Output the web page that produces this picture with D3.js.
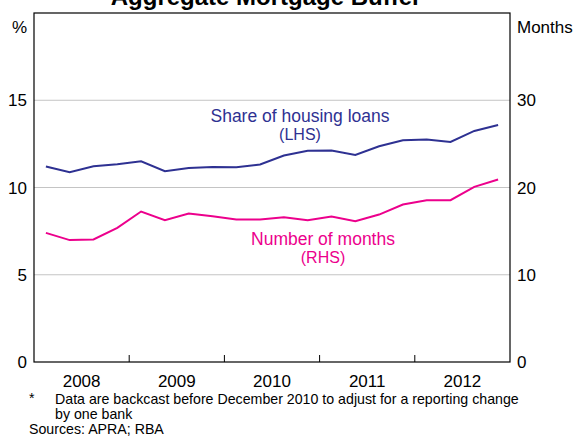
<!DOCTYPE html>
<html>
<head>
<meta charset="utf-8">
<script src="https://cdn.jsdelivr.net/npm/d3@7"></script>
<style>
  body { margin: 0; background: #fff; }
  text { font-family: Arial, "Liberation Sans", sans-serif; }
</style>
</head>
<body>
<div id="chart"></div>
<script>
let svgWidth = 574;
let svgHeight = 438;

let margin = { top: 13, right: 64, bottom: 76, left: 34 };
let width = svgWidth - margin.left - margin.right;
let height = svgHeight - margin.top - margin.bottom;

// quarterly observations, 2008 Q1 to 2012 Q4
let quarters = d3.range(20).map(i => 2008 + Math.floor(i / 4) + (i % 4) / 4 + 0.125);
let shareLoans = [11.2, 10.88, 11.22, 11.33, 11.5, 10.93, 11.12, 11.18, 11.16, 11.32,
                  11.83, 12.1, 12.12, 11.87, 12.36, 12.71, 12.75, 12.61, 13.24, 13.58];
let numMonths = [14.8, 13.97, 14.04, 15.38, 17.25, 16.26, 17.02, 16.7, 16.33, 16.33,
                 16.6, 16.26, 16.68, 16.14, 16.9, 18.05, 18.55, 18.55, 20.07, 20.92];
let yearLabels = [2008, 2009, 2010, 2011, 2012];
let leftTicks = [0, 5, 10, 15];
let rightTicks = [0, 10, 20, 30];

let svg = d3.select("#chart")
  .append("svg")
  .attr("width", svgWidth)
  .attr("height", svgHeight);

let chartGroup = svg.append("g")
  .attr("transform", `translate(${margin.left}, ${margin.top})`);

let x = d3.scaleLinear().domain([2008, 2013]).range([0, width]);
let yLeft = d3.scaleLinear().domain([0, 20]).range([height, 0]);
let yRight = d3.scaleLinear().domain([0, 40]).range([height, 0]);

// gridlines
chartGroup.selectAll(".grid")
  .data(leftTicks.filter(d => d > 0))
  .enter()
  .append("line")
  .attr("x1", 0)
  .attr("x2", width)
  .attr("y1", d => yLeft(d))
  .attr("y2", d => yLeft(d))
  .attr("stroke", "#c4c4c4")
  .attr("stroke-width", 1);

// left tick labels
chartGroup.selectAll(".lt")
  .data(leftTicks)
  .enter()
  .append("text")
  .attr("x", -7)
  .attr("y", d => yLeft(d) + 6)
  .attr("text-anchor", "end")
  .attr("font-size", "17px")
  .text(d => d);

// right tick labels
chartGroup.selectAll(".rt")
  .data(rightTicks)
  .enter()
  .append("text")
  .attr("x", width + 7)
  .attr("y", d => yRight(d) + 6)
  .attr("font-size", "17px")
  .text(d => d);

chartGroup.append("text")
  .attr("x", -7).attr("y", 20)
  .attr("text-anchor", "end")
  .attr("font-size", "17px")
  .text("%");

chartGroup.append("text")
  .attr("x", width + 7).attr("y", 20)
  .attr("font-size", "17px")
  .text("Months");

// year ticks
chartGroup.selectAll(".xt")
  .data(d3.range(2009, 2013))
  .enter()
  .append("line")
  .attr("x1", d => x(d))
  .attr("x2", d => x(d))
  .attr("y1", height)
  .attr("y2", height - 7)
  .attr("stroke", "#000");

chartGroup.selectAll(".xl")
  .data(yearLabels)
  .enter()
  .append("text")
  .attr("x", d => x(d + 0.5))
  .attr("y", height + 25)
  .attr("text-anchor", "middle")
  .attr("font-size", "17px")
  .text(d => d);

// lines
let lineLeft = d3.line()
  .x((d, i) => x(quarters[i]))
  .y(d => yLeft(d));
let lineRight = d3.line()
  .x((d, i) => x(quarters[i]))
  .y(d => yRight(d));

chartGroup.append("path")
  .datum(shareLoans)
  .attr("d", lineLeft)
  .attr("fill", "none")
  .attr("stroke", "#2e3192")
  .attr("stroke-width", 2);

chartGroup.append("path")
  .datum(numMonths)
  .attr("d", lineRight)
  .attr("fill", "none")
  .attr("stroke", "#ec008c")
  .attr("stroke-width", 2);

// frame
chartGroup.append("rect")
  .attr("width", width)
  .attr("height", height)
  .attr("fill", "none")
  .attr("stroke", "#000")
  .attr("stroke-width", 1.2);

// series labels
chartGroup.append("text")
  .attr("x", 266).attr("y", 109)
  .attr("text-anchor", "middle")
  .attr("font-size", "17.5px")
  .attr("fill", "#2e3192")
  .text("Share of housing loans");
chartGroup.append("text")
  .attr("x", 266).attr("y", 127)
  .attr("text-anchor", "middle")
  .attr("font-size", "16px")
  .attr("fill", "#2e3192")
  .text("(LHS)");

chartGroup.append("text")
  .attr("x", 289).attr("y", 232)
  .attr("text-anchor", "middle")
  .attr("font-size", "17.5px")
  .attr("fill", "#ec008c")
  .text("Number of months");
chartGroup.append("text")
  .attr("x", 289).attr("y", 250)
  .attr("text-anchor", "middle")
  .attr("font-size", "16px")
  .attr("fill", "#ec008c")
  .text("(RHS)");

// title, partly cut off at the top as in the source
let title = svg.append("text")
  .attr("x", 269).attr("y", 5)
  .attr("text-anchor", "middle")
  .attr("font-size", "24px")
  .attr("font-weight", "bold")
  .text("Aggregate Mortgage Buffer");
title.append("tspan").attr("dy", -8).attr("font-size", "15px").text("*");

// footnotes
svg.append("text")
  .attr("x", 29).attr("y", 403)
  .attr("font-size", "14.2px")
  .text("*");
svg.append("text")
  .attr("x", 55).attr("y", 404)
  .attr("font-size", "14.2px")
  .text("Data are backcast before December 2010 to adjust for a reporting change");
svg.append("text")
  .attr("x", 55).attr("y", 419)
  .attr("font-size", "14.2px")
  .text("by one bank");
svg.append("text")
  .attr("x", 29).attr("y", 434)
  .attr("font-size", "14.2px")
  .text("Sources: APRA; RBA");
</script>
</body>
</html>
